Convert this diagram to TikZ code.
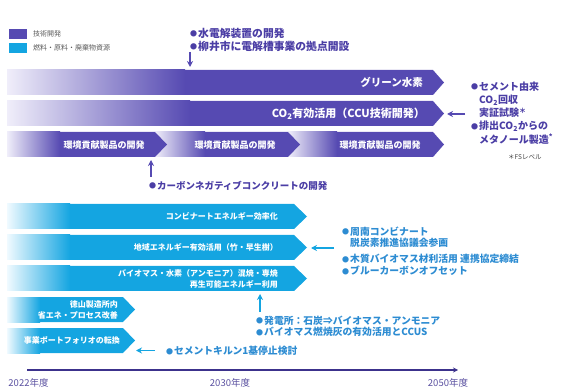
\documentclass[tikz,border=0pt]{standalone}
\usepackage{fontspec}
\setmainfont{Noto Sans CJK JP}
\usetikzlibrary{arrows.meta}
\definecolor{purp}{RGB}{86,74,178}
\definecolor{purplight}{RGB}{240,238,250}
\definecolor{cyanb}{RGB}{20,165,225}
\definecolor{cyanlight}{RGB}{240,250,255}
\definecolor{ptext}{RGB}{75,62,165}
\definecolor{ctext}{RGB}{45,140,210}
\definecolor{tline}{RGB}{60,50,140}
\definecolor{ytext}{RGB}{90,80,160}
\newcommand\bul{\raisebox{0.6pt}{\fontsize{7}{7}\selectfont ●}\kern1pt}
\newcommand\chevshape[8]{%
  \fill[#7] (#1,#2) -- (#3,#2) -- (#5,{(#2+#4)/2}) -- (#3,#4) -- (#1,#4) -- cycle;
  \shade[left color=#8, right color=#7] (#1,#2) rectangle (#6,#4);
}
\tikzset{
  parr/.style={draw=purp, line width=1.4pt, -{Stealth[length=6pt,width=6pt]}},
  carr/.style={draw=cyanb, line width=1.4pt, -{Stealth[length=6pt,width=6pt]}},
  ptxt/.style={text=ptext, font=\bfseries\fontsize{10}{13.2}\selectfont, inner sep=0pt, align=left},
  ctxt/.style={text=ctext, font=\bfseries\fontsize{9.8}{11.2}\selectfont, inner sep=0pt, align=left},
  bigbar/.style={text=white, font=\bfseries\fontsize{10.5}{12}\selectfont, inner sep=0pt},
  midbar/.style={text=white, font=\bfseries\fontsize{9}{10}\selectfont, inner sep=0pt},
  cbar/.style={text=white, font=\bfseries\fontsize{8}{11.5}\selectfont, inner sep=0pt, align=right},
  legtxt/.style={text=black!65, font=\fontsize{7}{8}\selectfont, inner sep=0pt, anchor=west},
  yr/.style={text=ytext, font=\fontsize{9.5}{10}\selectfont, inner sep=0pt},
}
\begin{document}
\begin{tikzpicture}[x=1pt,y=-1pt]
\useasboundingbox (0,0) rectangle (562,387);

% legend
\fill[purp] (9,29) rectangle (27,39);
\fill[cyanb] (9,43) rectangle (27,53);
\node[legtxt] (leg1) at (33,34) {技術開発};
\node[legtxt] (leg2) at (33,48) {燃料・原料・廃棄物資源};

% purple bars
\chevshape{7}{70}{433}{95}{444}{185}{purp}{purplight}
\chevshape{7}{101}{433}{126}{444}{190}{purp}{purplight}
\chevshape{288}{132}{433}{157}{444}{337}{purp}{purplight}
\chevshape{155}{132}{288}{157}{300}{205}{purp}{purplight}
\chevshape{7}{132}{155}{157}{167}{60}{purp}{purplight}

\node[bigbar, anchor=east] (gh) at (423,82.5) {グリーン水素};
\node[bigbar, anchor=east, font=\bfseries\fontsize{11}{12}\selectfont] (ccu) at (425,113.5) {CO\textsubscript{2}有効活用（CCU技術開発）};
\node[midbar] (env1) at (104,145) {環境貢献製品の開発};
\node[midbar] (env2) at (235,145) {環境貢献製品の開発};
\node[midbar] (env3) at (380,145) {環境貢献製品の開発};

% cyan bars
\chevshape{7}{204}{294}{229}{307}{70}{cyanb}{cyanlight}
\chevshape{7}{235}{294}{260}{307}{70}{cyanb}{cyanlight}
\chevshape{7}{266}{294}{291}{307}{70}{cyanb}{cyanlight}
\chevshape{7}{297}{123}{322}{135}{40}{cyanb}{cyanlight}
\chevshape{7}{328}{123}{353}{135}{40}{cyanb}{cyanlight}

\node[cbar, anchor=east] (ca) at (278,216.5) {コンビナートエネルギー効率化};
\node[cbar, anchor=east] (cb) at (278,247.5) {地域エネルギー有効活用（竹・早生樹）};
\node[cbar, anchor=east] (cc) at (278,279) {バイオマス・水素（アンモニア）混焼・専焼\\再生可能エネルギー利用};
\node[cbar, anchor=east] (cd) at (118,310) {徳山製造所内\\省エネ・プロセス改善};
\node[cbar, anchor=east] (ce) at (120,340.5) {事業ポートフォリオの転換};

% top annotation
\node[ptxt, anchor=west, font=\bfseries\fontsize{10.8}{13}\selectfont] (ta) at (190,39.5) {\bul 水電解装置の開発\\\bul 柳井市に電解槽事業の拠点開設};
\coordinate (tabase) at (190,52);
\coordinate (tatip) at (190,67);
\draw[parr] (tabase) -- (tatip);

% right purple annotation
\node[ptxt, anchor=north west] (ra) at (471,81.5) {\bul セメント由来\\\hphantom{\bul}CO\textsubscript{2}回収\\\hphantom{\bul}実証試験\textsuperscript{＊}\\\bul 排出CO\textsubscript{2}からの\\\hphantom{\bul}メタノール製造\textsuperscript{*}};
\node[text=black!75, font=\fontsize{6.5}{7}\selectfont, inner sep=0pt, anchor=west] (fs) at (508,157) {＊FSレベル};
\coordinate (rabase) at (465,114);
\coordinate (ratip) at (447,114);
\draw[parr] (rabase) -- (ratip);

% carbon negative
\coordinate (cnbase) at (151,177);
\coordinate (cntip) at (151,160);
\draw[parr] (cnbase) -- (cntip);
\node[ptxt, anchor=west, font=\bfseries\fontsize{9.5}{11}\selectfont] (cn) at (149,185.5) {\bul カーボンネガティブコンクリートの開発};

% right cyan annotation
\node[ctxt, anchor=north west] (q1) at (342,226.5) {\bul 周南コンビナート\\\hphantom{\bul}脱炭素推進協議会参画};
\node[ctxt, anchor=west] (q2) at (342,259) {\bul 木質バイオマス材利活用 連携協定締結};
\node[ctxt, anchor=west] (q3) at (342,271) {\bul ブルーカーボンオフセット};
\coordinate (qbase) at (334,248);
\coordinate (qtip) at (311,248);
\draw[carr] (qbase) -- (qtip);

% power plant
\coordinate (ppbase) at (260,312);
\coordinate (pptip) at (260,294);
\draw[carr] (ppbase) -- (pptip);
\node[ctxt, anchor=north west] (pp) at (256,316) {\bul 発電所：石炭⇒バイオマス・アンモニア\\\bul バイオマス燃焼灰の有効活用とCCUS};

% kiln
\coordinate (kbase) at (155,350.5);
\coordinate (ktip) at (136,350.5);
\draw[carr] (kbase) -- (ktip);
\node[ctxt, anchor=west] (kl) at (166,351) {\bul セメントキルン1基停止検討};

% timeline
\coordinate (t0) at (27,370);
\coordinate (t1) at (458,370);
\draw[draw=tline, line width=1.6pt, -{Stealth[length=5pt,width=5pt]}] (t0) -- (t1);
\node[yr] (y1) at (28.5,383) {2022年度};
\node[yr] (y2) at (230,383) {2030年度};
\node[yr] (y3) at (448,383) {2050年度};
\end{tikzpicture}
\end{document}
